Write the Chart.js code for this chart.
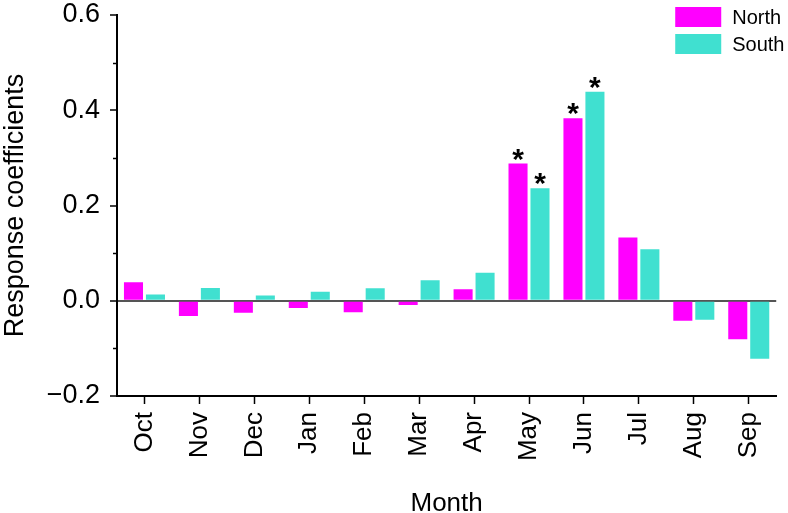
<!DOCTYPE html>
<html>
<head>
<meta charset="utf-8">
<script src="https://cdn.jsdelivr.net/npm/chart.js@4/dist/chart.umd.min.js"></script>
<style>
  html, body { margin: 0; padding: 0; background: #fff; }
  #wrap { width: 788px; height: 513px; }
</style>
</head>
<body>
<div id="wrap"><canvas id="myChart"></canvas></div>
<script>
// chart data
var months = ["Oct", "Nov", "Dec", "Jan", "Feb", "Mar", "Apr", "May", "Jun", "Jul", "Aug", "Sep"]
var north = [0.039, -0.032, -0.025, -0.015, -0.024, -0.009, 0.024, 0.288, 0.383, 0.133, -0.042, -0.081]
var south = [0.013, 0.027, 0.011, 0.019, 0.026, 0.043, 0.059, 0.236, 0.439, 0.108, -0.040, -0.122]
var northSig = [0, 0, 0, 0, 0, 0, 0, 1, 1, 0, 0, 0]
var southSig = [0, 0, 0, 0, 0, 0, 0, 1, 1, 0, 0, 0]
var seriesNames = ["North", "South"]
var yTicks = [-0.2, 0.0, 0.2, 0.4, 0.6]

var FONT = "'Liberation Sans', Arial, Helvetica, sans-serif"
var colors = ["#ff00ff", "#40e0d0"]
var sigFlags = [northSig, southSig]

function isMajor(v) {
	return yTicks.some(function (t) { return Math.abs(t - v) < 1e-9 })
}

// asterisks, minor ticks and the legend box in the upper right
var extras = {
	id: "extras",
	afterDatasetsDraw: function (chart) {
		var ctx = chart.ctx
		ctx.save()
		ctx.fillStyle = "#000"
		ctx.font = "bold 30px " + FONT
		ctx.textAlign = "center"
		ctx.textBaseline = "alphabetic"
		chart.data.datasets.forEach(function (ds, di) {
			var meta = chart.getDatasetMeta(di)
			meta.data.forEach(function (bar, i) {
				if (sigFlags[di][i]) ctx.fillText("*", bar.x, bar.y + 5)
			})
		})

		// minor ticks on the y axis
		var ys = chart.scales.y
		ctx.strokeStyle = "#000"
		ctx.lineWidth = 1.5
		ys.ticks.forEach(function (t) {
			if (isMajor(t.value)) return
			var py = Math.round(ys.getPixelForValue(t.value)) + 0.5
			ctx.beginPath()
			ctx.moveTo(ys.right - 4, py)
			ctx.lineTo(ys.right, py)
			ctx.stroke()
		})

		// legend
		var area = chart.chartArea
		var bx = area.right - 101
		ctx.font = "20px " + FONT
		ctx.textAlign = "left"
		ctx.textBaseline = "middle"
		chart.data.datasets.forEach(function (ds, di) {
			var by = 7 + di * 27
			ctx.fillStyle = ds.backgroundColor
			ctx.fillRect(bx, by, 46, 20)
			ctx.fillStyle = "#000"
			ctx.fillText(ds.label, bx + 57, by + 11)
		})
		ctx.restore()
	}
}

var ctx = document.getElementById("myChart")
var myChart = new Chart(ctx, {
	type: "bar",
	data: {
		labels: months,
		datasets: [{
			label: seriesNames[0],
			data: north,
			backgroundColor: colors[0]
		}, {
			label: seriesNames[1],
			data: south,
			backgroundColor: colors[1]
		}]
	},
	options: {
		responsive: true,
		maintainAspectRatio: false,
		animation: false,
		categoryPercentage: 0.8,
		barPercentage: 0.867,
		layout: { padding: { top: 15, right: 1, left: 0, bottom: 0 } },
		plugins: {
			legend: { display: false },
			tooltip: { enabled: false }
		},
		scales: {
			x: {
				afterFit: function (s) { s.height = 117 },
				grid: {
					offset: false,
					drawOnChartArea: false,
					tickLength: 8,
					tickColor: "#000",
					tickWidth: 1.5
				},
				border: { color: "#000", width: 2 },
				ticks: {
					color: "#000",
					font: { family: FONT, size: 26 },
					minRotation: 90,
					maxRotation: 90,
					padding: 8,
					autoSkip: false
				},
				title: {
					display: true,
					text: "Month",
					color: "#000",
					font: { family: FONT, size: 26, lineHeight: 1 },
					padding: { top: 0, bottom: -4 }
				}
			},
			y: {
				min: -0.2,
				max: 0.6,
				afterFit: function (s) {
					s.width = 117
					s.paddingTop = 0
					s.paddingBottom = 0
				},
				grid: {
					drawOnChartArea: true,
					color: function (c) { return c.tick && Math.abs(c.tick.value) < 1e-9 ? "#555" : "rgba(0,0,0,0)" },
					lineWidth: function (c) { return c.tick && Math.abs(c.tick.value) < 1e-9 ? 2 : 0 },
					tickLength: 7,
					tickColor: function (c) { return c.tick && isMajor(c.tick.value) ? "#000" : "rgba(0,0,0,0)" },
					tickWidth: 1.5
				},
				border: { color: "#000", width: 2 },
				ticks: {
					stepSize: 0.1,
					color: "#000",
					font: { family: FONT, size: 27 },
					padding: 10,
					callback: function (v) {
						if (!isMajor(v)) return ""
						return v.toFixed(1).replace("-", "\u2212")
					}
				},
				title: {
					display: true,
					text: "Response coefficients",
					color: "#000",
					font: { family: FONT, size: 27, lineHeight: 1 },
					padding: { top: 2, bottom: 0 }
				}
			}
		}
	},
	plugins: [extras]
})
</script>
</body>
</html>
